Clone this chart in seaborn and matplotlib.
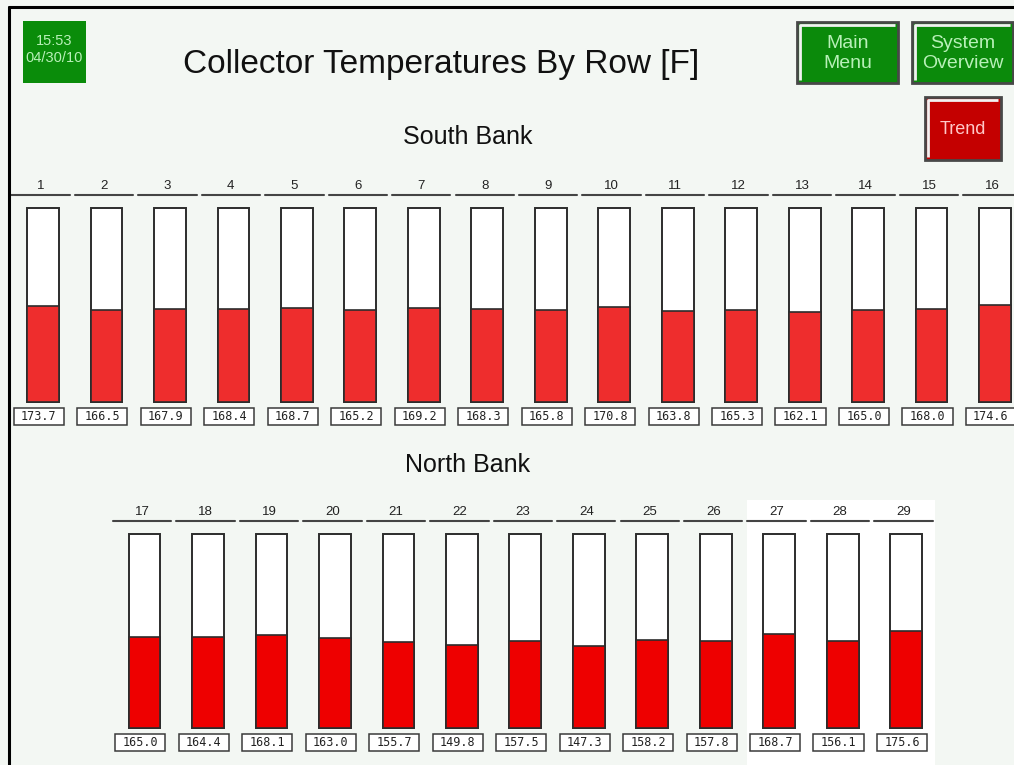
import matplotlib
matplotlib.use("Agg")
import matplotlib.pyplot as plt
import matplotlib.patches as mpatches
import matplotlib.lines as mlines
import matplotlib.transforms as mtransforms
import seaborn as sns

# data
south_rows = [str(i) for i in range(1, 17)]
south_temps = [173.7, 166.5, 167.9, 168.4, 168.7, 165.2, 169.2, 168.3,
               165.8, 170.8, 163.8, 165.3, 162.1, 165.0, 168.0, 174.6]
north_rows = [str(i) for i in range(17, 30)]
north_temps = [165.0, 164.4, 168.1, 163.0, 155.7, 149.8, 157.5, 147.3,
               158.2, 157.8, 168.7, 156.1, 175.6]
SCALE_MAX = 350  # full scale of each gauge, deg F

W, H = 1014, 765
BG = "#f3f7f3"
PITCH = 63.47  # px between gauges

sns.set_theme(style="white")
plt.rcParams["font.family"] = ["Liberation Sans", "DejaVu Sans"]

fig = plt.figure(figsize=(W / 100, H / 100), dpi=100, facecolor=BG)


def px_axes(left, top, width, height):
    ax = fig.add_axes([left / W, 1 - (top + height) / H, width / W, height / H])
    ax.set_facecolor("none")
    return ax


def fbox(x0, y0, x1, y1, **kw):
    r = mpatches.Rectangle((x0 / W, 1 - y1 / H), (x1 - x0) / W, (y1 - y0) / H,
                           transform=fig.transFigure, **kw)
    fig.add_artist(r)
    return r


def fline(xs, ys, **kw):
    fig.add_artist(mlines.Line2D([x / W for x in xs], [1 - y / H for y in ys],
                                 transform=fig.transFigure, **kw))


def button(x0, y0, x1, y1, color, label, tcolor, size):
    fbox(x0, y0, x1, y1, fc=color, ec="#484848", lw=2.0)
    fline([x0 + 2.5, x0 + 2.5, x1 - 3], [y1 - 3, y0 + 2.5, y0 + 2.5],
          color="#f2f2f2", lw=2.0, solid_capstyle="butt")
    fig.text((x0 + x1) / 2 / W, 1 - ((y0 + y1) / 2 + 1) / H, label, color=tcolor,
             fontsize=size, ha="center", va="center", linespacing=1.2)


def bank(rows, temps, first_center, bar_top, bar_h, fill):
    n = len(rows)
    ax = px_axes(first_center - PITCH / 2, bar_top, n * PITCH, bar_h)
    sns.barplot(x=rows, y=[SCALE_MAX] * n, color="white", edgecolor="#2c2c2c",
                linewidth=1.4, width=0.5, saturation=1, ax=ax)
    sns.barplot(x=rows, y=temps, color=fill, edgecolor="#2c2c2c",
                linewidth=1.2, width=0.5, saturation=1, ax=ax)
    ax.set_xlim(-0.5, n - 0.5)
    ax.set_ylim(0, SCALE_MAX)
    for p in ax.patches:
        p.set_clip_on(False)
    ax.set_axis_off()

    bottom = bar_top + bar_h
    fy = lambda y: (bottom - y) / bar_h
    tr = mtransforms.blended_transform_factory(ax.transData, ax.transAxes)
    box_h = 17 / bar_h
    for i, (r, t) in enumerate(zip(rows, temps)):
        ax.text(i - 0.04, fy(bar_top - 22), r, transform=tr, ha="center",
                va="center", fontsize=9.5, color="#222222", clip_on=False)
        ax.plot([i - 0.5, i + 0.42], [fy(bar_top - 13)] * 2, transform=tr,
                color="#444444", lw=1.5, clip_on=False)
        yc = fy(bottom + 14.5)
        ax.add_patch(mpatches.Rectangle((i - 0.46, yc - box_h / 2), 0.79, box_h,
                                        transform=tr, fc="white", ec="#3a3a3a",
                                        lw=1.1, clip_on=False))
        ax.text(i - 0.065, yc, f"{t:.1f}", transform=tr, ha="center", va="center",
                fontsize=8.5, family="DejaVu Sans Mono", color="#222222",
                clip_on=False)
    return ax


# white backdrop behind rows 27-29 (screen artifact)
fbox(747, 500, 935, 765, fc="white", ec="none", zorder=-1)

bank(south_rows, south_temps, 43, 208, 193.7, "#ee2d2d")
bank(north_rows, north_temps, 144.5, 534, 194, "#ee0000")

# frame
fline([9, W + 2], [7, 7], color="black", lw=2.2)
fline([9, 9], [7, H + 2], color="black", lw=2.2)

# clock
fbox(23, 21, 86, 83, fc="#0a8c0a", ec="none")
fig.text(54.5 / W, 1 - 41 / H, "15:53", color="#b8f0b8", fontsize=10.5,
         ha="center", va="center")
fig.text(54.5 / W, 1 - 58 / H, "04/30/10", color="#b8f0b8", fontsize=10.5,
         ha="center", va="center")

fig.text(441 / W, 1 - 64 / H, "Collector Temperatures By Row [F]", fontsize=24,
         ha="center", va="center", color="#111111")
fig.text(468 / W, 1 - 137 / H, "South Bank", fontsize=18, ha="center",
         va="center", color="#111111")
fig.text(468 / W, 1 - 465 / H, "North Bank", fontsize=18, ha="center",
         va="center", color="#111111")

button(797, 22, 898, 83, "#0b8a0b", "Main\nMenu", "#b8f0b8", 14)
button(912, 22, 1013, 83, "#0b8a0b", "System\nOverview", "#b8f0b8", 14)
button(925, 97, 1001, 160, "#c40000", "Trend", "#ffc8c8", 13)

fig.savefig("out.png", dpi=100, facecolor=BG)
